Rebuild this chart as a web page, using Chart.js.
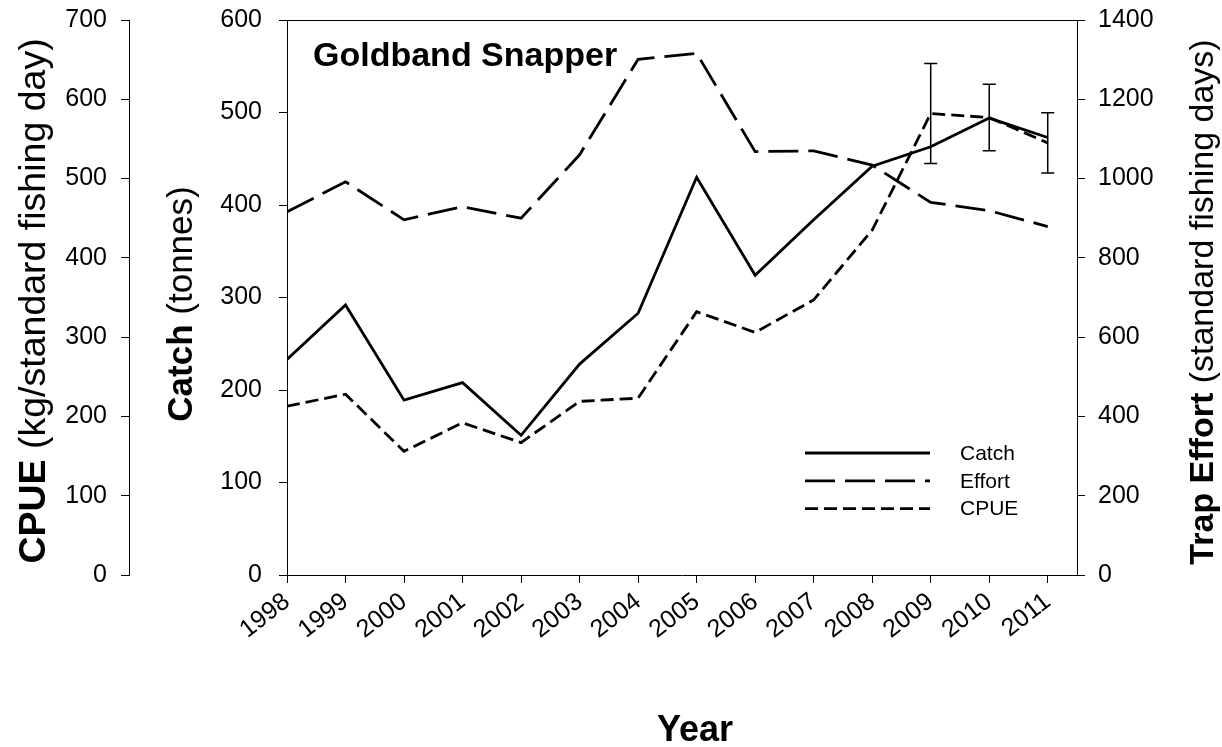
<!DOCTYPE html>
<html>
<head>
<meta charset="utf-8">
<script src="https://cdn.jsdelivr.net/npm/chart.js@4.4.1/dist/chart.umd.min.js"></script>
<style>
  html, body { margin: 0; padding: 0; background: #fff; }
  #wrap { width: 1222px; height: 747px; }
</style>
</head>
<body>
<div id="wrap"><canvas id="c" width="1222" height="747"></canvas></div>
<script>
// ---- Data ----
const years = [1998, 1999, 2000, 2001, 2002, 2003, 2004, 2005, 2006, 2007, 2008, 2009, 2010, 2011];
const catchTonnes = [233, 292, 189, 208, 151, 228, 283, 430, 324, 384, 442, 463, 494, 473];
const trapEffort = [916, 992, 896, 929, 900, 1060, 1301, 1316, 1068, 1070, 1034, 940, 919, 879];
const cpueValues = [213, 228, 156, 192, 167, 219, 223, 332, 306, 347, 435, 582, 577, 545];
const cpueError = [null, null, null, null, null, null, null, null, null, null, null, 63, 42, 38];

const catchTicks = [0, 100, 200, 300, 400, 500, 600];
const cpueTicks = [0, 100, 200, 300, 400, 500, 600, 700];
const effortTicks = [0, 200, 400, 600, 800, 1000, 1200, 1400];

const seriesLabels = ['Catch', 'Effort', 'CPUE'];
const chartTitle = 'Goldband Snapper';
const xTitle = 'Year';
const catchTitle = ['Catch', ' (tonnes)'];
const cpueTitle = ['CPUE', ' (kg/standard fishing day)'];
const effortTitle = ['Trap Effort', ' (standard fishing days)'];

const FONT = '"Liberation Sans", Arial, Helvetica, sans-serif';
Chart.defaults.font.family = FONT;
Chart.defaults.color = '#000';

function pts(vals) { return years.map((y, i) => ({ x: y, y: vals[i] })); }
function setTicks(arr) { return (s) => { s.ticks = arr.map(v => ({ value: v })); }; }
const plainLabel = (v) => String(v);
function fitWidth(w) {
  return (s) => { s.width = w; s.paddingTop = 0; s.paddingBottom = 0; };
}

const axisCommon = {
  grid: { drawOnChartArea: false, drawTicks: true, tickLength: 8, color: '#000', lineWidth: 1 },
  border: { display: true, color: '#000', width: 1 },
};

// ---- Plugins: titles, legend, error bars, top frame line ----
function drawMixed(ctx, parts, size, x, y, rot) {
  ctx.save();
  ctx.translate(x, y);
  ctx.rotate(rot);
  ctx.textBaseline = 'alphabetic';
  ctx.textAlign = 'left';
  const f0 = 'bold ' + size + 'px ' + FONT;
  const f1 = size + 'px ' + FONT;
  ctx.font = f0; const w0 = ctx.measureText(parts[0]).width;
  ctx.font = f1; const w1 = ctx.measureText(parts[1]).width;
  const start = -(w0 + w1) / 2;
  ctx.fillStyle = '#000';
  ctx.font = f0; ctx.fillText(parts[0], start, 0);
  ctx.font = f1; ctx.fillText(parts[1], start + w0, 0);
  ctx.restore();
}

const decorPlugin = {
  id: 'decor',
  afterDatasetsDraw(chart) {
    const ctx = chart.ctx;
    const xs = chart.scales.x, ys = chart.scales.cpue;
    ctx.save();
    ctx.strokeStyle = '#000';
    ctx.lineWidth = 1.5;
    years.forEach((yr, i) => {
      const e = cpueError[i];
      if (e == null) return;
      const px = xs.getPixelForValue(yr);
      const top = ys.getPixelForValue(cpueValues[i] + e);
      const bot = ys.getPixelForValue(cpueValues[i] - e);
      ctx.beginPath();
      ctx.moveTo(px, top); ctx.lineTo(px, bot);
      ctx.moveTo(px - 6.5, top); ctx.lineTo(px + 6.5, top);
      ctx.moveTo(px - 6.5, bot); ctx.lineTo(px + 6.5, bot);
      ctx.stroke();
    });
    ctx.restore();
  },
  afterDraw(chart) {
    const ctx = chart.ctx;
    const ca = chart.chartArea;
    ctx.save();
    ctx.strokeStyle = '#000';
    ctx.lineWidth = 1;
    ctx.beginPath();
    ctx.moveTo(ca.left, Math.round(ca.top) + 0.5);
    ctx.lineTo(ca.right, Math.round(ca.top) + 0.5);
    ctx.stroke();
    ctx.restore();

    ctx.save();
    ctx.fillStyle = '#000';
    ctx.font = 'bold 34px ' + FONT;
    ctx.textAlign = 'left';
    ctx.textBaseline = 'alphabetic';
    ctx.fillText(chartTitle, ca.left + 26, 66);
    ctx.restore();

    drawMixed(ctx, cpueTitle, 37.5, 45, 301, -Math.PI / 2);
    drawMixed(ctx, catchTitle, 35, 192, 304, -Math.PI / 2);
    drawMixed(ctx, effortTitle, 34, 1213, 302, -Math.PI / 2);
    ctx.save();
    ctx.fillStyle = '#000';
    ctx.font = 'bold 36px ' + FONT;
    ctx.textAlign = 'center';
    ctx.textBaseline = 'alphabetic';
    ctx.fillText(xTitle, 695, 741);
    ctx.restore();

    ctx.save();
    const lx0 = 805, lx1 = 930, ly0 = 453, ldy = 27.8;
    chart.data.datasets.forEach((ds, i) => {
      const y = ly0 + i * ldy;
      ctx.strokeStyle = '#000';
      ctx.lineWidth = ds.borderWidth;
      ctx.setLineDash(ds.borderDash || []);
      ctx.beginPath();
      ctx.moveTo(lx0, y); ctx.lineTo(lx1, y);
      ctx.stroke();
      ctx.setLineDash([]);
      ctx.fillStyle = '#000';
      ctx.font = '21px ' + FONT;
      ctx.textAlign = 'left';
      ctx.textBaseline = 'middle';
      ctx.fillText(ds.label, 960, y + 1);
    });
    ctx.restore();
  }
};

new Chart(document.getElementById('c'), {
  type: 'line',
  data: {
    datasets: [
      { label: seriesLabels[0], data: pts(catchTonnes), yAxisID: 'catch', borderColor: '#000', borderWidth: 2.8, borderDash: [], pointRadius: 0, tension: 0, fill: false },
      { label: seriesLabels[1], data: pts(trapEffort), yAxisID: 'effort', borderColor: '#000', borderWidth: 2.8, borderDash: [30, 10], pointRadius: 0, tension: 0, fill: false },
      { label: seriesLabels[2], data: pts(cpueValues), yAxisID: 'cpue', borderColor: '#000', borderWidth: 2.8, borderDash: [13, 6], pointRadius: 0, tension: 0, fill: false },
    ]
  },
  options: {
    responsive: false,
    animation: false,
    devicePixelRatio: 1,
    layout: { padding: { top: 20, left: 0, right: 0, bottom: 0 } },
    plugins: { legend: { display: false }, tooltip: { enabled: false }, title: { display: false } },
    scales: {
      x: {
        type: 'linear', position: 'bottom',
        min: years[0], max: years[years.length - 1] + 0.5,
        afterBuildTicks: setTicks(years),
        afterFit: (s) => { s.height = 172; },
        ticks: { font: { size: 25 }, minRotation: 38, maxRotation: 38, padding: 4, callback: plainLabel, autoSkip: false },
        ...axisCommon,
      },
      cpue: {
        type: 'linear', position: 'left', weight: 2,
        min: cpueTicks[0], max: cpueTicks[cpueTicks.length - 1],
        afterBuildTicks: setTicks(cpueTicks),
        afterFit: fitWidth(129),
        ticks: { font: { size: 25 }, padding: 14, callback: plainLabel },
        ...axisCommon,
      },
      catch: {
        type: 'linear', position: 'left', weight: 1,
        min: catchTicks[0], max: catchTicks[catchTicks.length - 1],
        afterBuildTicks: setTicks(catchTicks),
        afterFit: fitWidth(158),
        ticks: { font: { size: 25 }, padding: 17, callback: plainLabel },
        ...axisCommon,
      },
      effort: {
        type: 'linear', position: 'right',
        min: effortTicks[0], max: effortTicks[effortTicks.length - 1],
        afterBuildTicks: setTicks(effortTicks),
        afterFit: fitWidth(145),
        ticks: { font: { size: 25 }, padding: 13, callback: plainLabel },
        ...axisCommon,
      },
    }
  },
  plugins: [decorPlugin]
});
</script>
</body>
</html>
